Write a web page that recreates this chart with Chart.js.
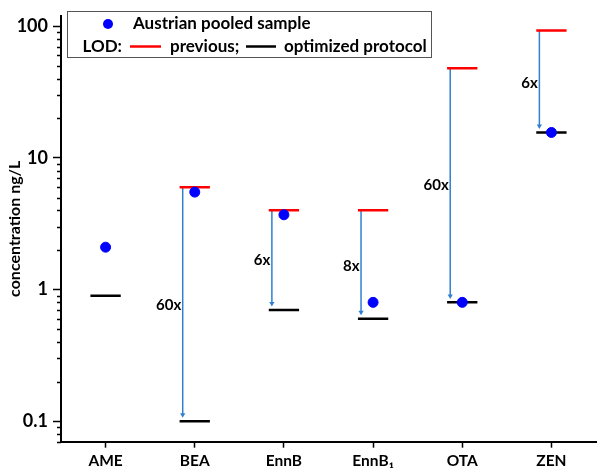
<!DOCTYPE html>
<html>
<head>
<meta charset="utf-8">
<script src="https://cdn.jsdelivr.net/npm/chart.js@4"></script>
<style>
  html, body { margin: 0; padding: 0; background: #fff; }
</style>
</head>
<body>
<canvas id="LodChart" width="604" height="476"></canvas>
<script>
// values
const categories = ['AME', 'BEA', 'EnnB', 'EnnB\u2081', 'OTA', 'ZEN']
const pooledSample = [2.1, 5.5, 3.7, 0.8, 0.8, 15.6]
const lodPrevious = [null, 6.0, 4.0, 4.0, 48, 93]
const lodOptimized = [0.9, 0.1, 0.7, 0.6, 0.8, 15.6]
const foldLabels = [null, '60x', '6x', '8x', '60x', '6x']
const foldLabelAt = [null, 0.76, 1.66, 1.52, 6.2, 37]
const yTickValues = [0.1, 1, 10, 100]

const fontFamily = 'Lato, "Open Sans", sans-serif'
const halfWidth = 0.17
const arrowOffset = -0.135
const arrowColor = '#2f80d0'

function segments(values) {
    const pts = []
    values.forEach((v, i) => {
        if (v == null) return
        pts.push({ x: i - halfWidth, y: v }, { x: i + halfWidth, y: v }, { x: i, y: null })
    })
    return pts
}

function arrows() {
    const pts = []
    lodPrevious.forEach((v, i) => {
        if (v == null) return
        pts.push({ x: i + arrowOffset, y: v },
            { x: i + arrowOffset, y: lodOptimized[i] * 1.12, tip: true },
            { x: i, y: null })
    })
    return pts
}

const minorTicks = {
    id: 'minorTicks',
    afterDraw(chart) {
        const y = chart.scales.y
        const ctx = chart.ctx
        ctx.save()
        ctx.strokeStyle = '#000'
        ctx.lineWidth = 1.5
        for (let p = 0.01; p <= 100; p *= 10) {
            for (let m = 2; m <= 9; m++) {
                const v = m * p
                if (v < y.min || v > y.max) continue
                const py = Math.round(y.getPixelForValue(v)) + 0.5
                ctx.beginPath()
                ctx.moveTo(chart.chartArea.left - 4, py)
                ctx.lineTo(chart.chartArea.left, py)
                ctx.stroke()
            }
        }
        ctx.restore()
    }
}

const foldText = {
    id: 'foldText',
    afterDatasetsDraw(chart) {
        const ctx = chart.ctx
        const x = chart.scales.x, y = chart.scales.y
        ctx.save()
        ctx.font = 'bold 15px ' + fontFamily
        ctx.fillStyle = '#000'
        ctx.textAlign = 'right'
        ctx.textBaseline = 'middle'
        foldLabels.forEach((t, i) => {
            if (!t) return
            ctx.fillText(t, x.getPixelForValue(i + arrowOffset) - 1.5, y.getPixelForValue(foldLabelAt[i]))
        })
        ctx.restore()
    }
}

const boxLegend = {
    id: 'boxLegend',
    afterDraw(chart) {
        const ctx = chart.ctx
        ctx.save()
        ctx.fillStyle = '#fff'
        ctx.fillRect(67, 11, 364, 46)
        ctx.strokeStyle = '#555'
        ctx.lineWidth = 1
        ctx.strokeRect(67.5, 11.5, 364, 46)

        ctx.font = 'bold 17px ' + fontFamily
        ctx.textBaseline = 'middle'
        ctx.fillStyle = '#0000ff'
        ctx.beginPath()
        ctx.arc(108, 24, 5, 0, Math.PI * 2)
        ctx.fill()
        ctx.fillStyle = '#000'
        ctx.fillText('Austrian pooled sample', 133, 24)

        const row = 46.5
        ctx.textAlign = 'right'
        ctx.fillText('LOD:', 122, row)
        ctx.textAlign = 'left'
        ctx.lineWidth = 2.5
        ctx.strokeStyle = '#ff0000'
        ctx.beginPath(); ctx.moveTo(130, row); ctx.lineTo(161, row); ctx.stroke()
        ctx.fillText('previous;', 170, row)
        ctx.strokeStyle = '#000'
        ctx.beginPath(); ctx.moveTo(246, row); ctx.lineTo(276, row); ctx.stroke()
        ctx.fillText('optimized protocol', 284, row)
        ctx.restore()
    }
}

new Chart(document.getElementById('LodChart').getContext('2d'), {
    type: 'scatter',
    data: {
        datasets: [{
            label: 'Austrian pooled sample',
            data: pooledSample.map((v, i) => ({ x: i, y: v })),
            backgroundColor: '#0000ff',
            borderColor: '#0000ff',
            pointRadius: 5,
            order: 0
        }, {
            label: 'LOD previous',
            data: segments(lodPrevious),
            showLine: true,
            borderColor: '#ff0000',
            borderWidth: 2.5,
            pointRadius: 0,
            order: 1
        }, {
            label: 'LOD optimized protocol',
            data: segments(lodOptimized),
            showLine: true,
            borderColor: '#000',
            borderWidth: 2.5,
            pointRadius: 0,
            order: 1
        }, {
            label: 'improvement',
            data: arrows(),
            showLine: true,
            borderColor: arrowColor,
            backgroundColor: arrowColor,
            borderWidth: 1.5,
            pointStyle: 'triangle',
            rotation: 180,
            pointRadius: c => (c.raw && c.raw.tip ? 3 : 0),
            pointBorderWidth: 0,
            order: 2
        }]
    },
    options: {
        responsive: false,
        animation: false,
        layout: { padding: { top: 11, right: 8, left: 0, bottom: 0 } },
        plugins: {
            legend: { display: false },
            tooltip: { enabled: false }
        },
        scales: {
            x: {
                type: 'linear',
                min: -0.5,
                max: 5.5,
                afterBuildTicks: s => { s.ticks = categories.map((c, i) => ({ value: i })) },
                afterFit: s => { s.height = 34.3 },
                ticks: {
                    callback: v => categories[v],
                    color: '#000',
                    font: { family: fontFamily, size: 15.5, weight: 'bold' },
                    padding: 4,
                    maxRotation: 0
                },
                grid: { drawOnChartArea: false, tickLength: 6, tickColor: '#000', tickWidth: 1.5 },
                border: { color: '#000', width: 2 }
            },
            y: {
                type: 'logarithmic',
                min: 0.07,
                max: 120,
                afterBuildTicks: s => { s.ticks = yTickValues.map(v => ({ value: v })) },
                afterFit: s => { s.width = 61 },
                ticks: {
                    callback: v => String(v),
                    color: '#000',
                    font: { family: fontFamily, size: 18, weight: 'bold' },
                    padding: 5
                },
                grid: { drawOnChartArea: false, tickLength: 8, tickColor: '#000', tickWidth: 1.5 },
                border: { color: '#000', width: 2 },
                title: {
                    display: true,
                    text: 'concentration ng/L',
                    color: '#000',
                    font: { family: fontFamily, size: 16, weight: 'bold' },
                    padding: { top: 5, bottom: 0 }
                }
            }
        }
    },
    plugins: [minorTicks, foldText, boxLegend]
})
</script>
</body>
</html>
